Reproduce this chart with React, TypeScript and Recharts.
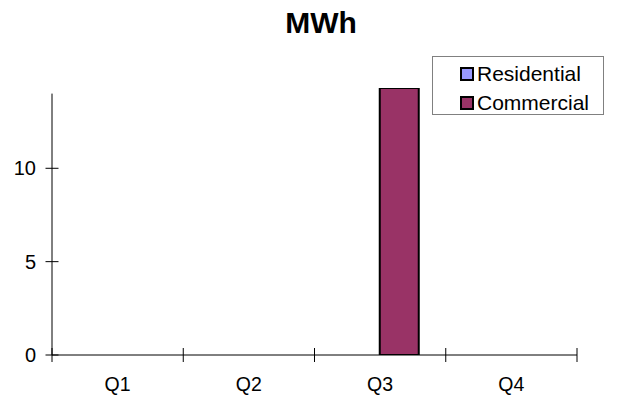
import React from "react";
import { BarChart, Bar, XAxis, YAxis, Legend, ReferenceLine } from "recharts";

const quarters = ["Q1", "Q2", "Q3", "Q4"];
const residential = [0, 0, 0, 0];
const commercial = [0, 0, 14.3, 0];
const yTicks = [0, 5, 10];
const yMax = 14.3;
const axisTop = 14;

const seriesNames = ["Residential", "Commercial"];
const seriesColors = ["#9999FF", "#993366"];

const data = quarters.map((q, i) => ({
  name: q,
  Residential: residential[i],
  Commercial: commercial[i],
}));

const FONT = '"Liberation Sans", Arial, sans-serif';

const XTick = (props: any) => {
  const { x, y, payload, index, visibleTicksCount, width } = props;
  const off =
    payload && typeof payload.offset === "number" && payload.offset > 0
      ? payload.offset
      : width / visibleTicksCount / 2;
  const axisY = y - 22;
  return (
    <g>
      <line x1={x - off} x2={x - off} y1={axisY - 7} y2={axisY + 7} stroke="#000" strokeWidth={1} />
      {index === visibleTicksCount - 1 && (
        <line x1={x + off} x2={x + off} y1={axisY - 7} y2={axisY + 7} stroke="#000" strokeWidth={1} />
      )}
      <text x={x} y={y} dy="0.71em" textAnchor="middle" fill="#000" fontSize={19.5} fontFamily={FONT}>
        {payload.value}
      </text>
    </g>
  );
};

const YTick = (props: any) => {
  const { x, y, payload } = props;
  const axisX = x + 16;
  return (
    <g>
      <line x1={axisX - 6.5} x2={axisX + 6.5} y1={y} y2={y} stroke="#000" strokeWidth={1} />
      <text x={x} y={y} dy="0.355em" textAnchor="end" fill="#000" fontSize={20} fontFamily={FONT}>
        {payload.value}
      </text>
    </g>
  );
};

const LegendBox = () => (
  <div
    style={{
      position: "relative",
      width: 172,
      height: 59,
      border: "1px solid #808080",
      boxSizing: "border-box",
      background: "#fff",
      fontFamily: FONT,
      fontSize: 21,
      color: "#000",
    }}
  >
    {seriesNames.map((n, i) => (
      <div
        key={n}
        style={{
          position: "absolute",
          left: 27,
          top: 16.5 + i * 29 - 12,
          height: 24,
          lineHeight: "24px",
          display: "flex",
          alignItems: "center",
          whiteSpace: "nowrap",
        }}
      >
        <span
          style={{
            display: "inline-block",
            width: 14,
            height: 14,
            boxSizing: "border-box",
            border: "2px solid #000",
            background: seriesColors[i],
            marginRight: 3,
          }}
        />
        <span>{n}</span>
      </div>
    ))}
  </div>
);

export default function App() {
  return (
    <div style={{ position: "absolute", left: 0, top: 0, width: 617, height: 396, background: "#fff" }}>
      <div
        style={{
          position: "absolute",
          left: 12.5,
          top: 8,
          width: 617,
          textAlign: "center",
          fontFamily: FONT,
          fontWeight: "bold",
          fontSize: 30,
          lineHeight: "30px",
          color: "#000",
        }}
      >
        MWh
      </div>
      <BarChart
        width={617}
        height={396}
        data={data}
        margin={{ top: 88, right: 40, bottom: 0, left: 0 }}
        barCategoryGap="20%"
        barGap={0}
      >
        <XAxis
          dataKey="name"
          height={41}
          axisLine={{ stroke: "#000", strokeWidth: 1 }}
          tickLine={false}
          tickSize={0}
          tickMargin={22}
          tick={<XTick />}
          interval={0}
        />
        <YAxis
          width={52}
          domain={[0, yMax]}
          ticks={yTicks}
          allowDataOverflow
          axisLine={false}
          tickLine={false}
          tickSize={0}
          tickMargin={16}
          tick={<YTick />}
        />
        <ReferenceLine
          segment={[
            { x: quarters[0], y: 0 },
            { x: quarters[0], y: axisTop },
          ]}
          position="start"
          stroke="#000"
          strokeWidth={1}
        />
        <Legend
          layout="vertical"
          align="center"
          verticalAlign="middle"
          wrapperStyle={{ top: 56, left: 432, width: 172, height: 59 }}
          content={<LegendBox />}
        />
        <Bar dataKey="Residential" fill={seriesColors[0]} stroke="#000" strokeWidth={2} isAnimationActive={false} />
        <Bar dataKey="Commercial" fill={seriesColors[1]} stroke="#000" strokeWidth={2} isAnimationActive={false} />
      </BarChart>
    </div>
  );
}
